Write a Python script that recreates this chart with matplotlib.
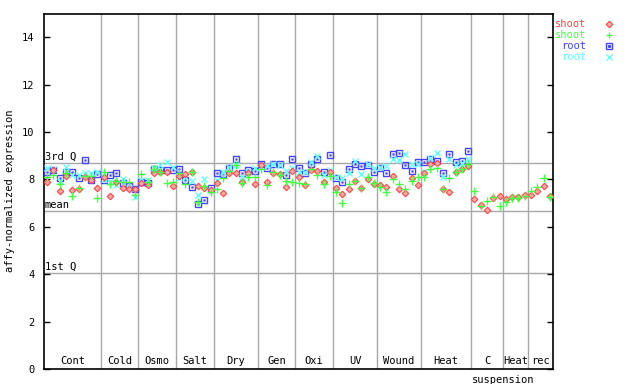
import matplotlib
matplotlib.use("Agg")
import matplotlib.pyplot as plt
from matplotlib.lines import Line2D
import numpy as np

groups = ["Cont", "Cold", "Osmo", "Salt", "Dry", "Gen", "Oxi", "UV", "Wound", "Heat", "C", "Heat", "rec"]
group_sizes = [9, 6, 6, 6, 7, 6, 6, 7, 7, 8, 5, 4, 4]

shoot_red = [7.90, 8.39, 7.51, 8.14, 7.55, 7.58, 8.11, 7.97, 7.62, 8.09,
             7.30, 7.90, 7.65, 7.59, 7.59, 7.83, 7.76, 8.25, 8.30, 8.30,
             7.72, 8.14, 8.21, 8.30, 7.72, 7.62, 7.55, 7.83, 7.44, 8.28,
             8.25, 7.90, 8.25, 7.80, 8.60, 7.90, 8.28, 8.22, 7.66, 8.36,
             8.10, 7.76, 8.39, 8.36, 7.90, 8.32, 7.62, 7.38, 7.58, 7.93,
             7.62, 8.00, 7.80, 7.76, 7.70, 8.14, 7.58, 7.44, 8.04, 7.76,
             8.28, 8.65, 8.70, 7.58, 7.45, 8.32, 8.42, 8.56,
             7.16, 6.92, 6.70, 7.20, 7.30, 7.17, 7.24, 7.24, 7.34, 7.34, 7.50, 7.72, 7.30]
shoot_green = [8.09, 8.20, 7.79, 8.25, 7.30, 7.62, 8.14, 8.14, 7.20, 8.30,
               7.80, 7.94, 7.90, 7.87, 7.35, 8.22, 7.90, 8.42, 8.30, 7.83,
               7.90, 8.25, 7.80, 8.30, 7.06, 7.72, 7.48, 7.58, 8.04, 8.35,
               8.60, 7.83, 8.11, 8.11, 8.45, 7.76, 8.32, 8.18, 7.95, 7.90,
               7.86, 7.80, 8.42, 8.18, 7.80, 8.14, 7.48, 7.02, 7.80, 7.93,
               7.62, 8.11, 7.83, 7.69, 7.48, 8.00, 7.80, 7.60, 7.94, 8.11,
               8.11, 8.42, 8.50, 7.58, 8.08, 8.30, 8.42, 8.63,
               7.52, 6.87, 7.08, 7.24, 6.87, 7.04, 7.22, 7.21, 7.30, 7.52, 7.69, 8.04, 7.27]
root_blue = [8.32, 8.39, 8.04, 8.32, 8.30, 8.04, 8.82, 7.97, 8.21, 7.97,
             8.18, 8.28, 7.86, 7.72, 7.59, 7.90, 7.86, 8.42, 8.39, 8.39,
             8.39, 8.42, 7.97, 7.66, 6.96, 7.13, 7.62, 8.25, 8.21, 8.46,
             8.84, 8.25, 8.39, 8.35, 8.63, 8.46, 8.63, 8.67, 8.18, 8.88,
             8.46, 8.25, 8.67, 8.84, 8.32, 9.05, 8.04, 7.90, 8.42, 8.63,
             8.56, 8.60, 8.32, 8.50, 8.29, 9.07, 9.12, 8.60, 8.35, 8.72,
             8.72, 8.88, 8.79, 8.29, 9.07, 8.74, 8.79, 9.21]
root_cyan = [8.46, 8.42, 7.95, 8.54, 8.20, 8.18, 8.25, 8.25, 8.32, 8.02,
             7.90, 7.76, 8.00, 7.65, 7.25, 7.97, 7.97, 8.50, 8.60, 8.74,
             8.54, 8.04, 8.10, 7.95, 7.34, 8.00, 7.50, 7.97, 8.30, 8.54,
             8.60, 8.10, 8.30, 8.50, 8.53, 8.55, 8.67, 8.60, 8.36, 8.50,
             8.30, 8.30, 8.74, 8.98, 8.20, 8.40, 8.10, 8.08, 8.25, 8.79,
             8.22, 8.65, 8.46, 8.53, 8.56, 8.84, 8.80, 9.07, 8.67, 8.67,
             8.32, 8.90, 9.10, 8.11, 8.84, 8.60, 8.70, 8.88]

q3_value = 8.69
mean_value = 6.67
q1_value = 4.05

RED = "#ff4444"
GREEN = "#44ff44"
BLUE = "#4444ff"
CYAN = "#66ffff"
GRID = "#a8a8a8"
FONT = "DejaVu Sans Mono"

fig = plt.figure(figsize=(6.4, 3.84), dpi=100)
ax = fig.add_axes([44/640, 15/384, 509/640, 355.5/384])

n_total = sum(group_sizes)
ax.set_xlim(0, n_total)
ax.set_ylim(0, 15)

bounds = np.cumsum(group_sizes)
for b in bounds[:-1]:
    ax.axvline(b, color=GRID, lw=1, zorder=1)

for val, lab in [(q3_value, "3rd Q"), (mean_value, "mean"), (q1_value, "1st Q")]:
    ax.axhline(val, color=GRID, lw=1, zorder=1)
    ax.text(0.1, val + 0.05, lab, fontsize=7.5, family=FONT, va="bottom", ha="left", zorder=2)

starts = np.concatenate([[0], bounds[:-1]])
for s, b, g in zip(starts, bounds, groups):
    ax.text((s + b) / 2, 0.12, g, fontsize=7.5, family=FONT, ha="center", va="bottom")
ax.text(73.1, -0.25, "suspension", fontsize=7.5, family=FONT, ha="center", va="top", clip_on=False)

xs_all = np.arange(n_total) + 0.5
xs_root = np.arange(len(root_blue)) + 0.5

ax.plot(xs_root, root_blue, ls="none", marker="s", ms=5, mfc="none", mec=BLUE, mew=1.0, zorder=3)
ax.plot(xs_root, root_blue, ls="none", marker="s", ms=1.2, mfc=BLUE, mec=BLUE, mew=0.3, zorder=3)
ax.plot(xs_root, root_cyan, ls="none", marker="x", ms=4.5, mec=CYAN, mew=1.0, zorder=3)
ax.plot(xs_all, shoot_red, ls="none", marker="D", ms=3.3, mfc="#ffaaaa", mec=RED, mew=0.8, zorder=4)
ax.plot(xs_all, shoot_green, ls="none", marker="+", ms=6, mec=GREEN, mew=1.0, zorder=4)

ax.set_xticks([])
ax.set_yticks(range(0, 15, 2))
ax.tick_params(axis="y", direction="in", length=4, right=True, labelsize=7.5, pad=7, width=1)
for lbl in ax.get_yticklabels():
    lbl.set_family(FONT)
for sp in ax.spines.values():
    sp.set_linewidth(1.2)
ax.set_ylabel("affy-normalized expression", fontsize=7.5, family=FONT)
ax.yaxis.set_label_coords(-0.057, 0.5)

legend_items = [("shoot", RED, "D"), ("shoot", GREEN, "+"), ("root", BLUE, "s"), ("root", CYAN, "x")]
for k, (txt, col, mk) in enumerate(legend_items):
    yy = 1 - (24 + 11 * k) / 384
    fig.text(586/640, yy, txt, color=col, fontsize=7.5, family=FONT, ha="right", va="center")
    if mk == "D":
        ln = Line2D([609/640], [yy], marker="D", ms=3.3, mfc="#ffaaaa", mec=col, mew=0.8, ls="none", transform=fig.transFigure)
    elif mk == "s":
        ln = Line2D([609/640], [yy], marker="s", ms=4.5, mfc="none", mec=col, mew=1.0, ls="none", transform=fig.transFigure)
        fig.add_artist(Line2D([609/640], [yy], marker="s", ms=1.2, mfc=col, mec=col, ls="none", transform=fig.transFigure))
    else:
        ln = Line2D([609/640], [yy], marker=mk, ms=5, mec=col, mew=1.0, ls="none", transform=fig.transFigure)
    fig.add_artist(ln)

fig.savefig("out.png", dpi=100)
